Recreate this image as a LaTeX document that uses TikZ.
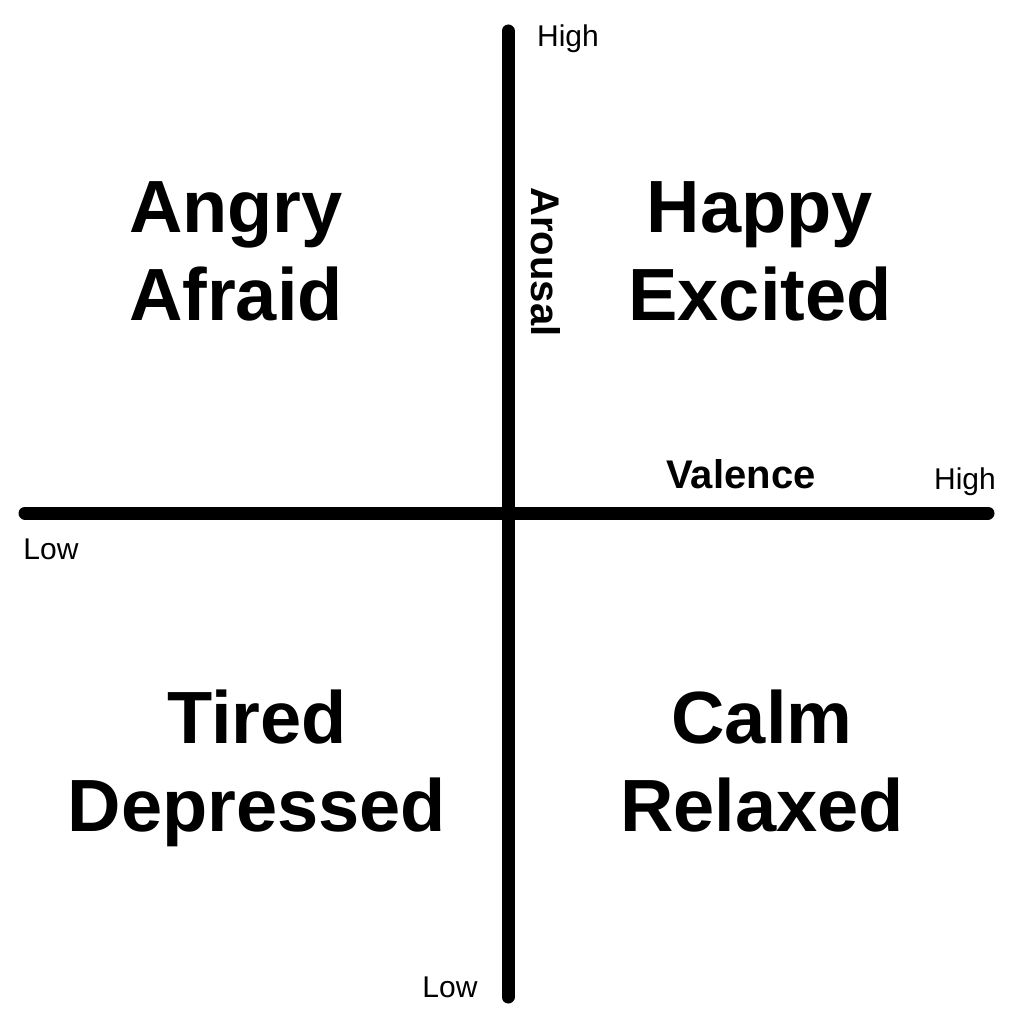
\documentclass[tikz,border=0pt]{standalone}
\usepackage{fontspec}
\setmainfont{Liberation Sans}
\begin{document}
\begin{tikzpicture}[x=1pt,y=-1pt,
  axisline/.style={line width=13pt,line cap=round},
  bigword/.style={font=\fontsize{74}{86}\selectfont\bfseries,anchor=base,inner sep=0pt},
  axislabel/.style={font=\fontsize{40}{46}\selectfont\bfseries,inner sep=0pt},
  endlabel/.style={font=\fontsize{30}{34}\selectfont,anchor=base,inner sep=0pt}]
\useasboundingbox[fill=white] (0,0) rectangle (1024,1024);
\coordinate (vtop) at (508,31);
\coordinate (vbot) at (508,997);
\coordinate (hl) at (25,513);
\coordinate (hr) at (988,513);
\draw[axisline] (vtop) -- (vbot);
\draw[axisline] (hl) -- (hr);
\node[endlabel] (hightop) at (568,47) {High};
\node[endlabel] (highright) at (965,489) {High};
\node[endlabel] (lowleft) at (51,559) {Low};
\node[endlabel] (lowbot) at (450,997) {Low};
\node[axislabel,anchor=base] (valence) at (741,488) {Valence};
\node[axislabel,rotate=-90] (arousal) at (546,262) {Arousal};
\node[bigword] (angry) at (236,233) {Angry};
\node[bigword] (afraid) at (236,320) {Afraid};
\node[bigword] (happy) at (760,233) {Happy};
\node[bigword] (excited) at (760,320) {Excited};
\node[bigword] (tired) at (257,743) {Tired};
\node[bigword] (depressed) at (257,831) {Depressed};
\node[bigword] (calm) at (762,743) {Calm};
\node[bigword] (relaxed) at (762,831) {Relaxed};
\end{tikzpicture}
\end{document}
